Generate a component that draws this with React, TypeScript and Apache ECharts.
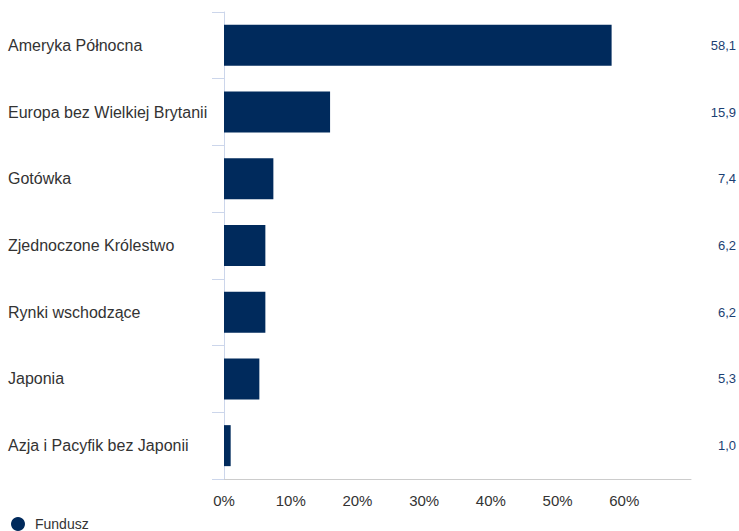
import React, { useEffect, useRef } from "react";
import * as echarts from "echarts";

const categories = [
  "Ameryka Północna",
  "Europa bez Wielkiej Brytanii",
  "Gotówka",
  "Zjednoczone Królestwo",
  "Rynki wschodzące",
  "Japonia",
  "Azja i Pacyfik bez Japonii",
];
const fundValues = [58.1, 15.9, 7.4, 6.2, 6.2, 5.3, 1.0];
const seriesName = "Fundusz";

const FONT = "'Liberation Sans', Arial, sans-serif";

export default function App() {
  const ref = useRef<HTMLDivElement>(null);
  useEffect(() => {
    if (!ref.current) return;
    const chart = echarts.init(ref.current, null, { renderer: "svg" });
    chart.setOption({
      animation: false,
      textStyle: { fontFamily: FONT },
      grid: { left: 224, right: 47, top: 12, bottom: 52, containLabel: false },
      legend: {
        left: 11,
        top: 517,
        padding: 0,
        icon: "circle",
        itemWidth: 14,
        itemHeight: 14,
        data: [seriesName],
        textStyle: { color: "#333", fontSize: 14, fontFamily: FONT, padding: [0, 0, 0, 5] },
      },
      xAxis: {
        type: "value",
        min: 0,
        max: 70,
        interval: 10,
        axisLine: { show: true, lineStyle: { color: "#cccccc", width: 1 } },
        axisTick: { show: false },
        splitLine: { show: false },
        axisLabel: {
          color: "#333",
          fontSize: 15,
          margin: 14,
          fontFamily: FONT,
          formatter: (v: number) => (v >= 70 ? "" : v + "%"),
        },
      },
      yAxis: [
        {
          type: "category",
          data: categories,
          inverse: true,
          axisLine: { show: true, lineStyle: { color: "#ccd6eb" } },
          axisTick: { show: true, length: 12, lineStyle: { color: "#ccd6eb" } },
          axisLabel: {
            color: "#333",
            fontSize: 16,
            align: "left",
            margin: 216,
            fontFamily: FONT,
          },
        },
        {
          type: "category",
          data: fundValues.map((v) => v.toFixed(1).replace(".", ",")),
          inverse: true,
          position: "right",
          axisLine: { show: false },
          axisTick: { show: false },
          axisLabel: {
            color: "#1b3f73",
            fontSize: 13,
            align: "right",
            margin: 45,
            fontFamily: FONT,
          },
        },
      ],
      series: [
        {
          name: seriesName,
          type: "bar",
          data: fundValues,
          barWidth: 41,
          itemStyle: { color: "#002a5c" },
        },
      ],
    });
    return () => chart.dispose();
  }, []);
  return (
    <div
      ref={ref}
      style={{ position: "fixed", left: 0, top: 0, width: 739, height: 531, background: "#fff" }}
    />
  );
}
